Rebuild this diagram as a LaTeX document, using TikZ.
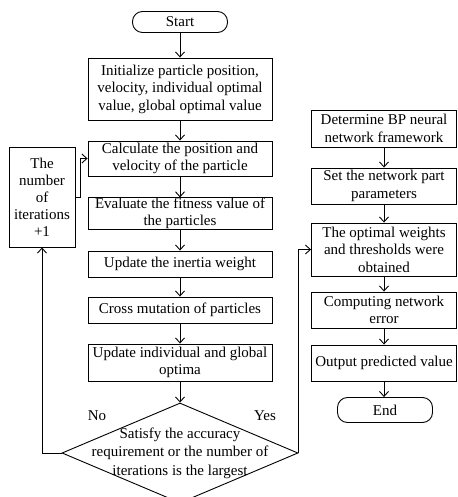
\documentclass[tikz,border=0pt]{standalone}
\usepackage{fontspec}
\setmainfont{Liberation Serif}
\usetikzlibrary{shapes.geometric,arrows.meta}
\begin{document}
\begin{tikzpicture}[x=1pt,y=-1pt,
  every node/.style={font=\fontsize{15}{17.5}\selectfont},
  proc/.style={draw,line width=0.9pt,align=center,inner sep=0pt,minimum width=184pt},
  rproc/.style={draw,line width=0.9pt,align=center,inner sep=0pt,minimum width=145pt},
  term/.style={draw,line width=0.9pt,rounded corners=10pt,inner sep=0pt,minimum width=95pt},
  arr/.style={line width=0.9pt,-{Straight Barb[length=5pt,width=9pt]}}]
\useasboundingbox (0,0) rectangle (457,497);
% left column
\node[term,minimum height=21pt] (start) at (180,22) {Start};
\node[proc,minimum height=62pt] (init) at (180,89) {Initialize particle position,\\velocity, individual optimal\\value, global optimal value};
\node[proc,minimum height=35pt] (calc) at (180,158.5) {Calculate the position and\\velocity of the particle};
\node[proc,minimum height=31pt] (eval) at (180,213.5) {Evaluate the fitness value of\\the particles};
\node[proc,minimum height=26pt] (inertia) at (180,264) {Update the inertia weight};
\node[proc,minimum height=26pt] (cross) at (180,310) {Cross mutation of particles};
\node[proc,minimum height=37pt] (upd) at (180,362.5) {Update individual and global\\optima};
\node[draw,line width=0.9pt,diamond,aspect=2.36,minimum width=236pt,minimum height=100pt,inner sep=0pt] (dec) at (180,453) {};
\node[align=center,inner sep=0pt,font=\fontsize{15}{18.5}\selectfont] (dectext) at (180,453) {Satisfy the accuracy\\requirement or the number of\\iterations is the largest};
\node[inner sep=0pt] (no) at (97,416) {No};
\node[inner sep=0pt] (yes) at (265,416) {Yes};
\node[draw,line width=0.9pt,align=center,inner sep=0pt,minimum width=66pt,minimum height=100pt,font=\fontsize{15}{17}\selectfont] (iter) at (42,197) {The\\number\\of\\iterations\\+1};
% right column
\node[rproc,minimum height=37pt] (det) at (384,128.5) {Determine BP neural\\network framework};
\node[rproc,minimum height=36pt] (set) at (384,186) {Set the network part\\parameters};
\node[rproc,minimum height=53pt] (opt) at (384,249.5) {The optimal weights\\and thresholds were\\obtained};
\node[rproc,minimum height=36pt] (comp) at (384,310) {Computing network\\error};
\node[rproc,minimum height=36pt] (out) at (384,363) {Output predicted value};
\node[term,minimum height=25pt] (end) at (385,410) {End};
% connectors
\draw[arr] (start) -- (init);
\draw[arr] (init) -- (calc);
\draw[arr] (calc) -- (eval);
\draw[arr] (eval) -- (inertia);
\draw[arr] (inertia) -- (cross);
\draw[arr] (cross) -- (upd);
\draw[arr] (upd) -- (dec);
\draw[arr] (dec.west) -- (dec.west -| iter.south) -- (iter.south);
\draw[arr] (dec.east) |- (opt.west);
\draw[arr] (iter.east) -- ++(5,0) |- (calc.west);
\draw[arr] (det) -- (set);
\draw[arr] (set) -- (opt);
\draw[arr] (opt) -- (comp);
\draw[arr] (comp) -- (out);
\draw[arr] (out.south) -- (out.south |- end.north);
\end{tikzpicture}
\end{document}
